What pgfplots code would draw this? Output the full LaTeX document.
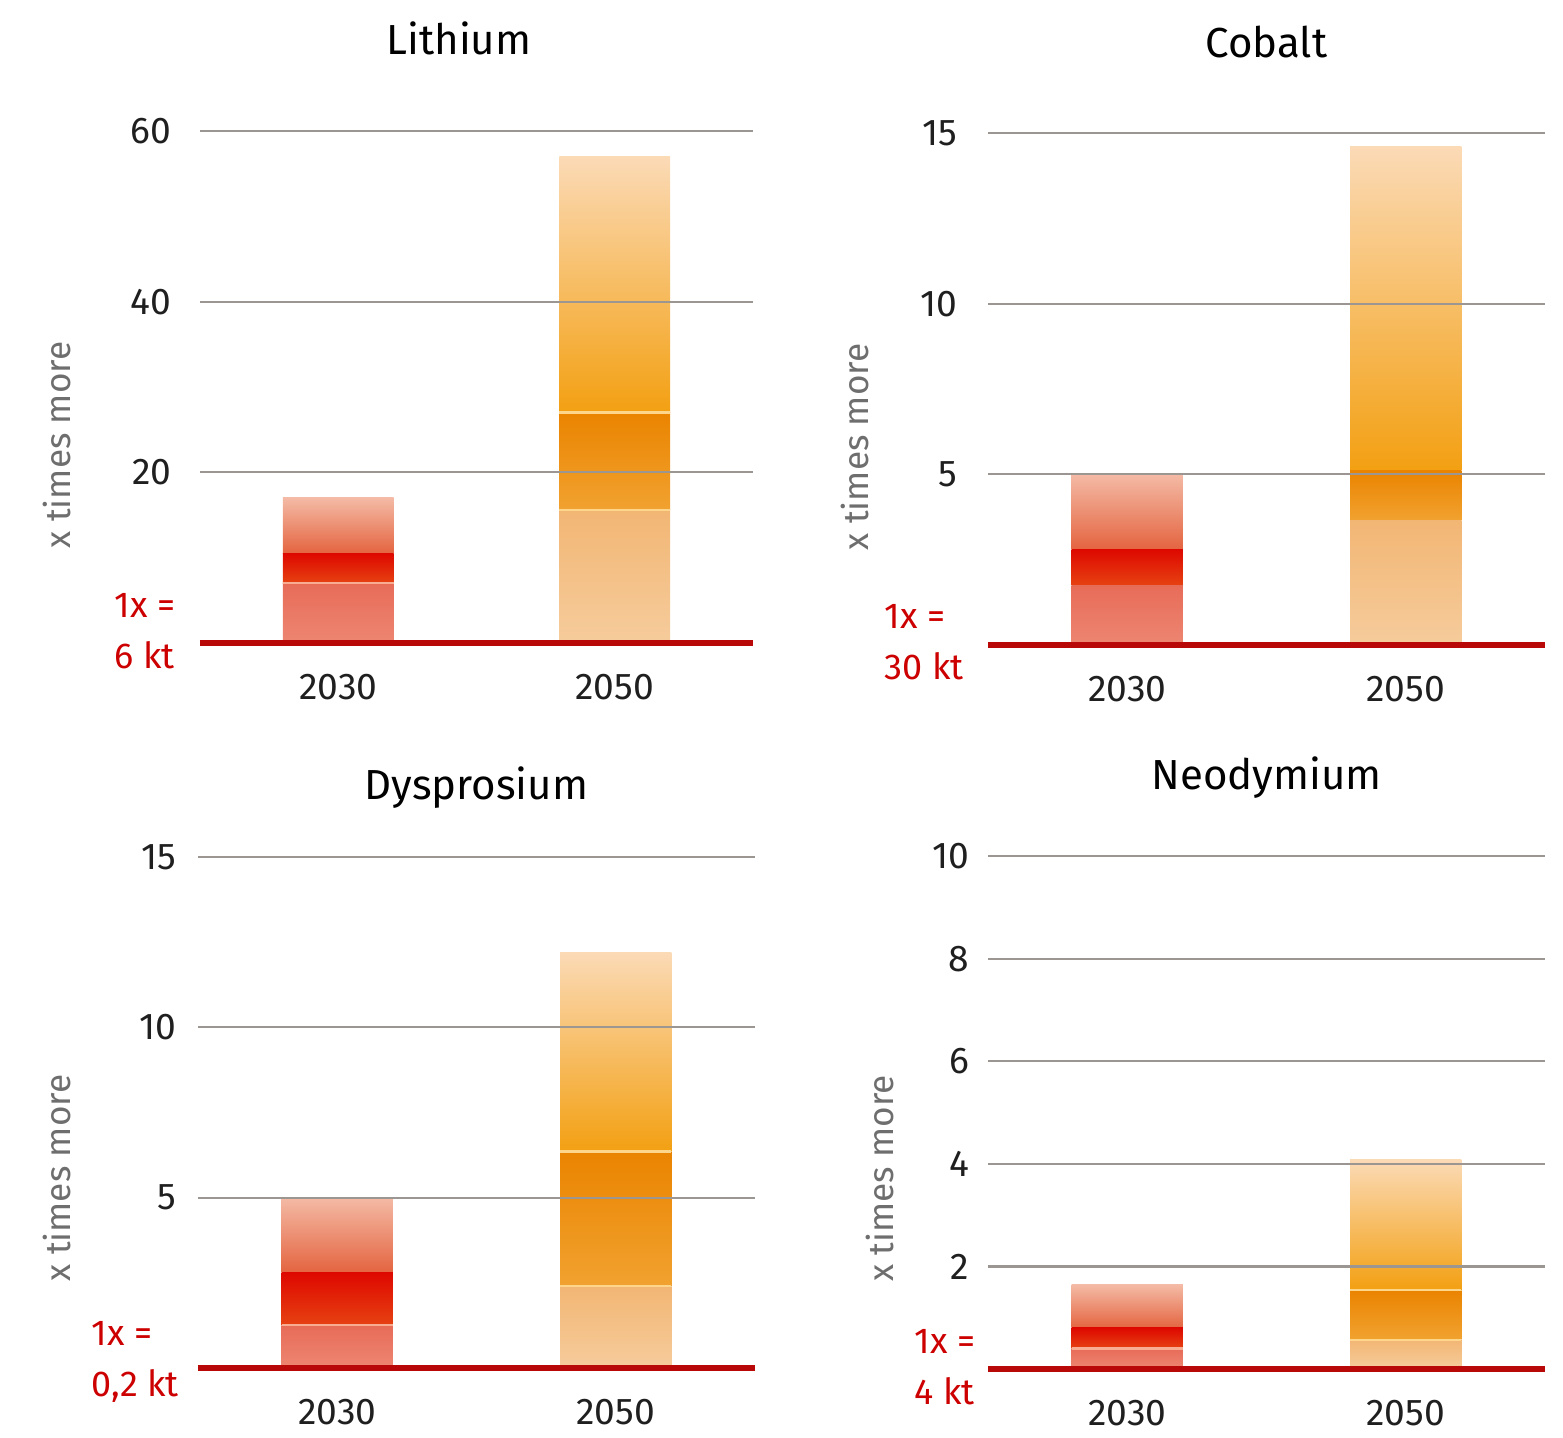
\documentclass[border=0pt]{standalone}
\usepackage{fontspec}
\setmainfont{Fira Sans}
\usepackage{pgfplots}
\pgfplotsset{compat=1.18}

\definecolor{gridgray}{RGB}{155,150,145}
\definecolor{baseRed}{RGB}{185,8,8}
\definecolor{labelRed}{RGB}{205,0,0}
\definecolor{ylabgray}{RGB}{110,110,110}
% 2030 bars (red)
\definecolor{r30a}{RGB}{244,186,165}
\definecolor{r30m}{RGB}{237,150,122}
\definecolor{r30b}{RGB}{228,100,64}
\definecolor{r30c}{RGB}{222,8,0}
\definecolor{r30d}{RGB}{230,66,18}
\definecolor{r30e}{RGB}{231,108,88}
\definecolor{r30f}{RGB}{237,134,114}
\definecolor{r30s}{RGB}{248,172,146}
% 2050 bars (orange)
\definecolor{o50a}{RGB}{251,218,182}
\definecolor{o50m}{RGB}{247,196,136}
\definecolor{o50b}{RGB}{243,160,18}
\definecolor{o50c}{RGB}{234,132,0}
\definecolor{o50d}{RGB}{241,162,48}
\definecolor{o50e}{RGB}{242,182,116}
\definecolor{o50f}{RGB}{246,204,156}
\definecolor{o50s}{RGB}{253,214,140}

\tikzset{
  unitlab/.style={anchor=west, align=left, text=labelRed, inner sep=0pt,
    font=\fontsize{9}{12.75}\selectfont},
}

\pgfplotsset{
  panel/.style={
    scale only axis,
    ybar stacked, bar width=0.4,
    xmin=-0.5, xmax=1.5, ymin=0,
    xtick={0,1}, xticklabels={2030,2050},
    axis x line*=bottom, axis y line*=left,
    x axis line style={draw=baseRed, line width=1.4pt, -},
    y axis line style={draw=none},
    major tick length=0pt,
    ymajorgrids, grid style={draw=gridgray, line width=0.55pt},
    axis on top, clip=false,
    /pgf/number format/assume math mode=true,
    tick label style={font=\fontsize{9.3}{11}\selectfont, text=black!88},
    xticklabel style={anchor=center, yshift=-11pt},
    yticklabel style={anchor=east, inner sep=0pt},
    title style={anchor=center, at={(0.5,1)}, font=\fontsize{10.5}{12}\selectfont},
    ylabel={x times more},
    ylabel style={anchor=center, font=\fontsize{8.8}{10}\selectfont, text=ylabgray},
  },
  % thin boundaries between the scenario bands, drawn in an overlaid axis
  seps/.style={scale only axis, xmin=-0.5, xmax=1.5, ymin=0, hide axis, clip=false},
  b30top/.style={draw=none, top color=r30a, middle color=r30m, bottom color=r30b},
  b30mid/.style={draw=none, top color=r30c, bottom color=r30d},
  b30low/.style={draw=none, top color=r30e, bottom color=r30f},
  b50top/.style={draw=none, top color=o50a, middle color=o50m, bottom color=o50b},
  b50mid/.style={draw=none, top color=o50c, bottom color=o50d},
  b50low/.style={draw=none, top color=o50e, bottom color=o50f},
  sep30/.style={sharp plot, no marks, draw=r30s, line width=0.6pt},
  sep50/.style={sharp plot, no marks, draw=o50s, line width=0.6pt},
}

\begin{document}
\begin{tikzpicture}
\path[use as bounding box] (0,0) rectangle (390.75pt,359.25pt);

% ---------------- Lithium ----------------
% 2030: 7 / 10.5 / 17   2050: 15.6 / 27 / 57
\begin{axis}[panel, at={(50pt,198.5pt)}, anchor=south west,
  width=138.25pt, height=128pt, ymax=60, ytick={20,40,60},
  yticklabel style={xshift=-7pt},
  title=Lithium, title style={yshift=17.25pt, xshift=-4.4pt},
  ylabel style={at={(axis description cs:-0.2586,0.387)}}]
  \addplot[b30low] coordinates {(0,7) (1,0)};
  \addplot[b30mid] coordinates {(0,3.5) (1,0)};
  \addplot[b30top] coordinates {(0,6.5) (1,0)};
  \addplot[b50low] coordinates {(0,0) (1,15.6)};
  \addplot[b50mid] coordinates {(0,0) (1,11.4)};
  \addplot[b50top] coordinates {(0,0) (1,30)};
  \node[unitlab] at (axis description cs:-0.1555,0.0225) {1x =\\6 kt};
\end{axis}
\begin{axis}[seps, at={(50pt,198.5pt)}, anchor=south west,
  width=138.25pt, height=128pt, ymax=60]
  \addplot[sep30] coordinates {(-0.2,7) (0.2,7)};
  \addplot[sep50] coordinates {(0.8,15.6) (1.2,15.6)};
  \addplot[sep50] coordinates {(0.8,27) (1.2,27)};
\end{axis}

% ---------------- Cobalt ----------------
% 2030: 1.75 / 2.8 / 5   2050: 3.65 / 5.1 / 14.6
\begin{axis}[panel, at={(247pt,198pt)}, anchor=south west,
  width=139.25pt, height=128pt, ymax=15, ytick={5,10,15},
  yticklabel style={xshift=-7.5pt},
  title=Cobalt, title style={yshift=16.75pt},
  ylabel style={at={(axis description cs:-0.239,0.387)}}]
  \addplot[b30low] coordinates {(0,1.75) (1,0)};
  \addplot[b30mid] coordinates {(0,1.05) (1,0)};
  \addplot[b30top] coordinates {(0,2.2) (1,0)};
  \addplot[b50low] coordinates {(0,0) (1,3.65)};
  \addplot[b50mid] coordinates {(0,0) (1,1.45)};
  \addplot[b50top] coordinates {(0,0) (1,9.5)};
  \node[unitlab] at (axis description cs:-0.1867,0.006) {1x =\\30 kt};
\end{axis}

% ---------------- Dysprosium ----------------
% 2030: 1.26 / 2.8 / 5   2050: 2.4 / 6.35 / 12.2
\begin{axis}[panel, at={(49.5pt,17.25pt)}, anchor=south west,
  width=139.25pt, height=127.75pt, ymax=15, ytick={5,10,15},
  yticklabel style={xshift=-5.25pt},
  title=Dysprosium, title style={yshift=11.25pt},
  ylabel style={at={(axis description cs:-0.253,0.372)}}]
  \addplot[b30low] coordinates {(0,1.26) (1,0)};
  \addplot[b30mid] coordinates {(0,1.54) (1,0)};
  \addplot[b30top] coordinates {(0,2.2) (1,0)};
  \addplot[b50low] coordinates {(0,0) (1,2.4)};
  \addplot[b50mid] coordinates {(0,0) (1,3.95)};
  \addplot[b50top] coordinates {(0,0) (1,5.85)};
  \node[unitlab] at (axis description cs:-0.192,0.011) {1x =\\0,2 kt};
\end{axis}
\begin{axis}[seps, at={(49.5pt,17.25pt)}, anchor=south west,
  width=139.25pt, height=127.75pt, ymax=15]
  \addplot[sep30] coordinates {(-0.2,1.26) (0.2,1.26)};
  \addplot[sep50] coordinates {(0.8,2.4) (1.2,2.4)};
  \addplot[sep50] coordinates {(0.8,6.35) (1.2,6.35)};
\end{axis}

% ---------------- Neodymium ----------------
% 2030: 0.4 / 0.8 / 1.64   2050: 0.57 / 1.54 / 4.09
\begin{axis}[panel, at={(247pt,17pt)}, anchor=south west,
  width=139.25pt, height=128.25pt, ymax=10, ytick={2,4,6,8,10},
  yticklabel style={xshift=-4.5pt},
  title=Neodymium, title style={yshift=13.5pt},
  ylabel style={at={(axis description cs:-0.194,0.372)}}]
  \addplot[b30low] coordinates {(0,0.4) (1,0)};
  \addplot[b30mid] coordinates {(0,0.4) (1,0)};
  \addplot[b30top] coordinates {(0,0.84) (1,0)};
  \addplot[b50low] coordinates {(0,0) (1,0.57)};
  \addplot[b50mid] coordinates {(0,0) (1,0.97)};
  \addplot[b50top] coordinates {(0,0) (1,2.55)};
  \node[unitlab] at (axis description cs:-0.133,0.004) {1x =\\4 kt};
\end{axis}
\begin{axis}[seps, at={(247pt,17pt)}, anchor=south west,
  width=139.25pt, height=128.25pt, ymax=10]
  \addplot[sep30] coordinates {(-0.2,0.4) (0.2,0.4)};
  \addplot[sep50] coordinates {(0.8,0.57) (1.2,0.57)};
  \addplot[sep50] coordinates {(0.8,1.54) (1.2,1.54)};
\end{axis}
\end{tikzpicture}
\end{document}
